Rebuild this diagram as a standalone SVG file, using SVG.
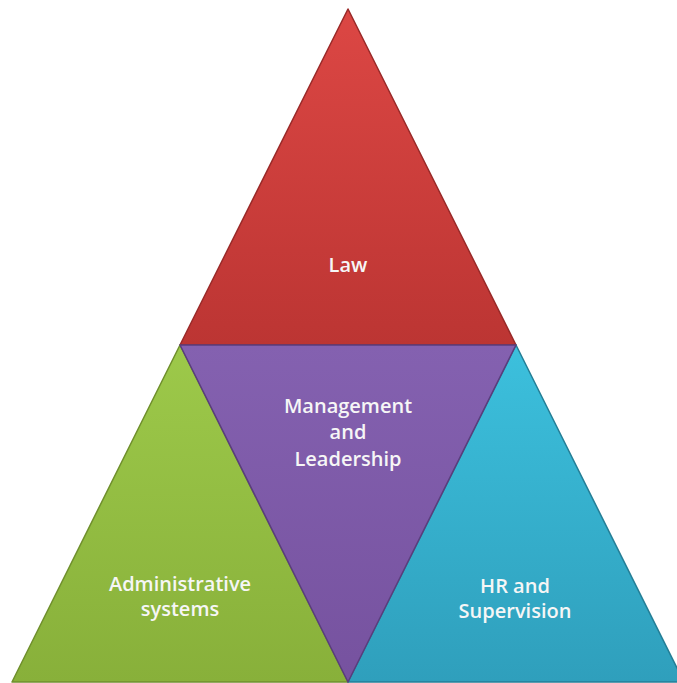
<svg xmlns="http://www.w3.org/2000/svg" width="677" height="683" viewBox="0 0 677 683">
<defs>
<linearGradient id="gRed" x1="0" y1="0" x2="0" y2="1"><stop offset="0" stop-color="#dc4744"/><stop offset="1" stop-color="#bc3533"/></linearGradient>
<linearGradient id="gPur" x1="0" y1="0" x2="0" y2="1"><stop offset="0" stop-color="#8461b0"/><stop offset="1" stop-color="#76529f"/></linearGradient>
<linearGradient id="gGrn" x1="0" y1="0" x2="0" y2="1"><stop offset="0" stop-color="#9dc94a"/><stop offset="1" stop-color="#88b03a"/></linearGradient>
<linearGradient id="gBlu" x1="0" y1="0" x2="0" y2="1"><stop offset="0" stop-color="#3cc0dd"/><stop offset="1" stop-color="#2f9fbc"/></linearGradient>
<style>
.t{font-family:"Open Sans","Noto Sans","Liberation Sans",sans-serif;font-size:20px;font-weight:600;fill:#f6f6f6;text-anchor:middle}
.s{stroke-width:1.5;stroke-linejoin:round}
</style>
</defs>
<rect width="677" height="683" fill="#ffffff"/>
<g id="law">
<polygon class="s" points="348,9 516,345 180,345" fill="url(#gRed)" stroke="#9a2a29"/>
<text class="t" x="348" y="272">Law</text>
</g>
<g id="admin">
<polygon class="s" points="180,345 348,682 12,682" fill="url(#gGrn)" stroke="#6f8f2c"/>
<text class="t" x="180" y="591">Administrative</text>
<text class="t" x="180" y="616">systems</text>
</g>
<g id="hr">
<polygon class="s" points="516,345 684,682 348,682" fill="url(#gBlu)" stroke="#247e96"/>
<text class="t" x="515" y="593">HR and</text>
<text class="t" x="515" y="618">Supervision</text>
</g>
<g id="mgmt">
<polygon class="s" points="180,345 516,345 348,682" fill="url(#gPur)" stroke="#5a3d7c"/>
<text class="t" x="348" y="413">Management</text>
<text class="t" x="348" y="439">and</text>
<text class="t" x="348" y="466">Leadership</text>
</g>
<g id="connectors"></g>
</svg>
